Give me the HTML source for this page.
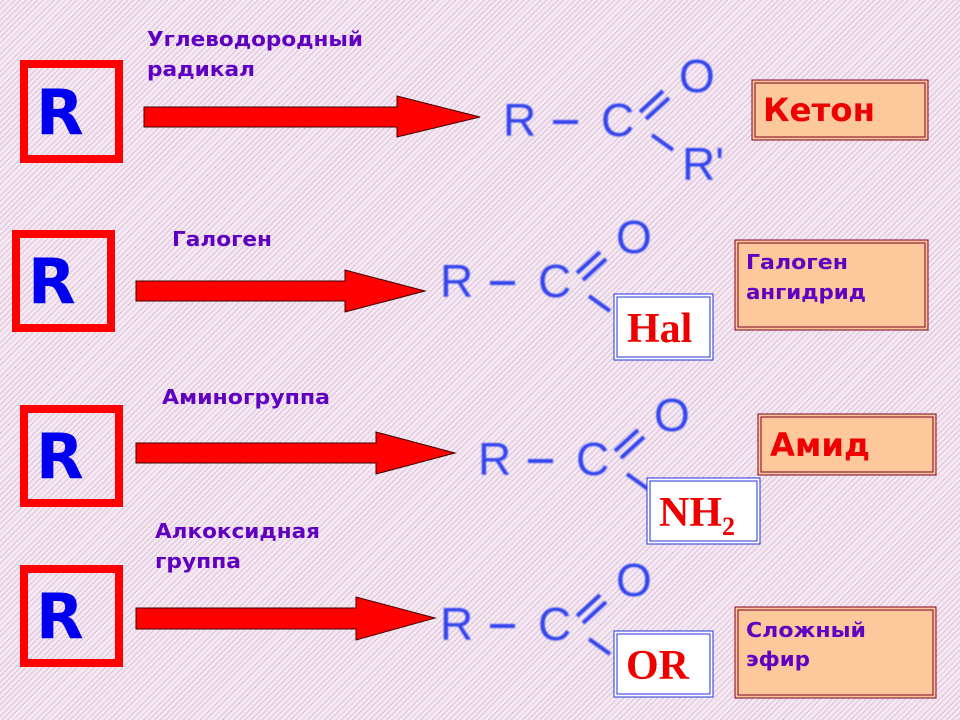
<!DOCTYPE html>
<html><head><meta charset="utf-8"><style>
html,body{margin:0;padding:0}
body{width:960px;height:720px;overflow:hidden;background:#f0dcec;
background-image:repeating-linear-gradient(135deg,#f6e8f3 0 2px,#dcc3d8 2px 3px,#f6e8f3 3px 4px);}
svg{position:absolute;left:0;top:0}
.lab{font-family:"DejaVu Sans","Liberation Sans",sans-serif;font-weight:bold;font-size:20px;fill:#6000c0}
.rb{font-family:"DejaVu Sans","Liberation Sans",sans-serif;font-weight:bold;font-size:62px;fill:#0000ee}
.f{font-family:"Liberation Sans",sans-serif;font-size:46px;fill:#3344ee}
.tm{font-family:"Liberation Serif",serif;font-weight:bold;font-size:42px;fill:#ee0000}
.kb{font-family:"DejaVu Sans","Liberation Sans",sans-serif;font-weight:bold;font-size:32px;fill:#ee0000}
</style></head><body>
<svg width="960" height="720" viewBox="0 0 960 720">
<defs>
<filter id="bl"><feGaussianBlur stdDeviation="0.9"/></filter>
<g id="form">
 <text class="f" x="0" y="0">R</text>
 <line x1="50" y1="-14" x2="75" y2="-14" stroke="#3344ee" stroke-width="4"/>
 <text class="f" x="98" y="0">C</text>
 <line x1="137" y1="-24" x2="160" y2="-45" stroke="#3344ee" stroke-width="4"/>
 <line x1="143" y1="-17" x2="166" y2="-38" stroke="#3344ee" stroke-width="4"/>
 <text class="f" x="176" y="-44">O</text>
 <line x1="149" y1="-1" x2="170" y2="14" stroke="#3344ee" stroke-width="4"/>
</g>
</defs>
<g fill="none" stroke="#ff0000" stroke-width="8">
<rect x="24" y="64" width="95" height="95"/>
<rect x="16" y="234" width="95" height="94"/>
<rect x="24" y="409" width="95" height="94"/>
<rect x="24" y="569" width="95" height="94"/>
</g>
<text class="rb" x="36" y="134">R</text>
<text class="rb" x="28" y="303">R</text>
<text class="rb" x="36" y="478">R</text>
<text class="rb" x="36" y="638">R</text>

<text class="lab" x="147" y="46" textLength="216" lengthAdjust="spacingAndGlyphs">Углеводородный</text>
<text class="lab" x="147" y="76" textLength="108" lengthAdjust="spacingAndGlyphs">радикал</text>
<text class="lab" x="172" y="246" textLength="100" lengthAdjust="spacingAndGlyphs">Галоген</text>
<text class="lab" x="162" y="404" textLength="168" lengthAdjust="spacingAndGlyphs">Аминогруппа</text>
<text class="lab" x="155" y="538" textLength="165" lengthAdjust="spacingAndGlyphs">Алкоксидная</text>
<text class="lab" x="155" y="568" textLength="86" lengthAdjust="spacingAndGlyphs">группа</text>

<g fill="#ff0000" stroke="#400000" stroke-width="1">
<polygon points="144,107 397,107 397,96 480,117 397,137 397,127 144,127"/>
<polygon points="136,281 345,281 345,270 425,291 345,312 345,301 136,301"/>
<polygon points="136,443 376,443 376,432 455,453 376,474 376,463 136,463"/>
<polygon points="136,608 356,608 356,597 435,618 356,640 356,629 136,629"/>
</g>

<g filter="url(#bl)">
<use href="#form" x="503" y="136"/>
<text class="f" x="682" y="180">R'</text>
<use href="#form" x="440" y="297"/>
<use href="#form" x="478" y="475"/>
<use href="#form" x="440" y="640"/>
</g>

<g fill="#ffffff" stroke="#2233dd" stroke-width="1">
<rect x="614" y="294" width="99" height="66"/><rect x="617" y="297" width="93" height="60" fill="none"/>
<rect x="647" y="478" width="113" height="66"/><rect x="650" y="481" width="107" height="60" fill="none"/>
<rect x="614" y="631" width="99" height="66"/><rect x="617" y="634" width="93" height="60" fill="none"/>
</g>
<text class="tm" x="627" y="342">Hal</text>
<text class="tm" x="659" y="526">NH<tspan font-size="26" dy="9">2</tspan></text>
<text class="tm" x="626" y="679">OR</text>

<g fill="#fcc89c" stroke="#800020" stroke-width="1">
<rect x="752" y="80" width="176" height="60"/><rect x="755" y="83" width="170" height="54" fill="none"/>
<rect x="735" y="240" width="193" height="90"/><rect x="738" y="243" width="187" height="84" fill="none"/>
<rect x="758" y="414" width="178" height="61"/><rect x="761" y="417" width="172" height="55" fill="none"/>
<rect x="735" y="607" width="201" height="91"/><rect x="738" y="610" width="195" height="85" fill="none"/>
</g>
<text class="kb" x="763" y="121" textLength="112" lengthAdjust="spacingAndGlyphs">Кетон</text>
<text class="kb" x="770" y="456" textLength="100" lengthAdjust="spacingAndGlyphs">Амид</text>
<text class="lab" x="746" y="269" textLength="102" lengthAdjust="spacingAndGlyphs">Галоген</text>
<text class="lab" x="746" y="299" textLength="120" lengthAdjust="spacingAndGlyphs">ангидрид</text>
<text class="lab" x="746" y="637" textLength="120" lengthAdjust="spacingAndGlyphs">Сложный</text>
<text class="lab" x="746" y="666" textLength="64" lengthAdjust="spacingAndGlyphs">эфир</text>
</svg>
</body></html>
